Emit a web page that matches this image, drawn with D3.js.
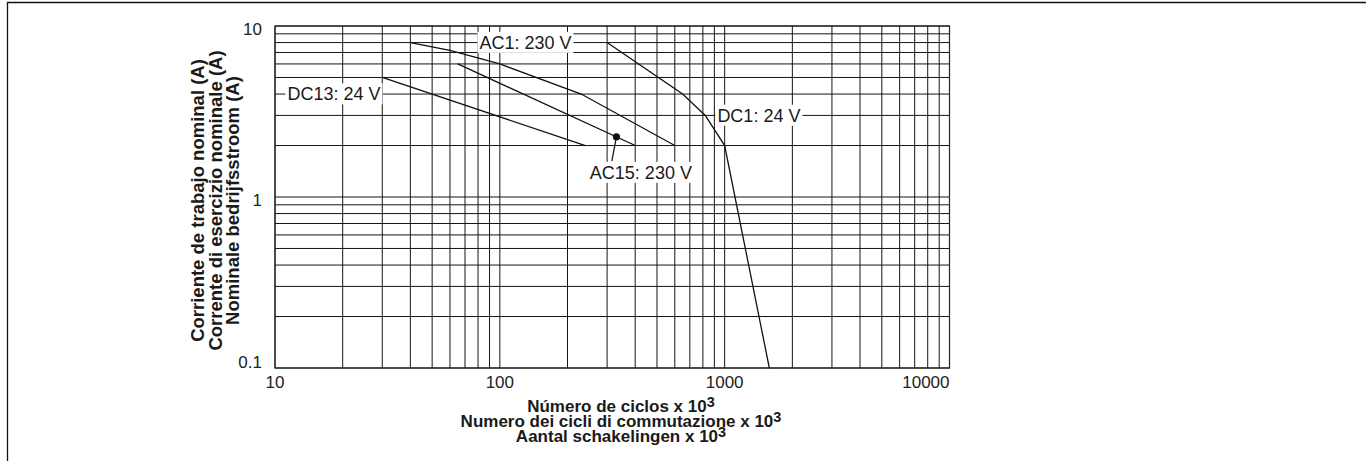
<!DOCTYPE html>
<html><head><meta charset="utf-8">
<script src="https://cdn.jsdelivr.net/npm/d3@7"></script>
<style>
body{margin:0;background:#fff;}
svg{display:block;font-family:"Liberation Sans",Arial,Helvetica,sans-serif;}
</style></head><body>
<svg id="c" width="1366" height="461"></svg>
<script>
// ---- data ----
const xDomain = [10, 10000];
const yDomain = [0.1, 10];
const xTickValues = [10, 100, 1000, 10000];
const xTickLabels = ["10", "100", "1000", "10000"];
const yTickValues = [0.1, 1, 10];
const yTickLabels = ["0.1", "1", "10"];

const dc13X = [30, 240];
const dc13Y = [5, 2];
const ac1X = [40, 60, 100, 230, 600];
const ac1Y = [8, 7.2, 6, 4, 2];
const ac15X = [65, 400];
const ac15Y = [6, 2];
const dc1X = [300, 650, 820, 1000, 1580];
const dc1Y = [8, 4, 3, 2, 0.1];

const labelTexts = ["DC13: 24 V", "AC1: 230 V", "DC1: 24 V", "AC15: 230 V"];
const labelX = [18.3, 130, 1420, 424];
const labelY = [4, 8, 3, 1.39];

const markerX = [330];
const markerY = [2.25];
const leaderEndX = [315];
const leaderEndY = [1.62];

const xTitleLines = ["Número de ciclos x 10", "Numero dei cicli di commutazione x 10", "Aantal schakelingen x 10"];
const xTitleSup = "3";
const yTitleLines = ["Corriente de trabajo nominal (A)", "Corrente di esercizio nominale (A)", "Nominale bedrijfsstroom (A)"];

// ---- layout ----
const W = 1366, H = 461;
const L = 275, R = 949.5, T = 26, B = 368;

const svg = d3.select("#c");
const x = d3.scaleLog().domain(xDomain).range([L, R]);
const y = d3.scaleLog().domain(yDomain).range([B, T]);

// outer frame (top and left)
svg.append("path").attr("d", `M7.5,${H} V2.5 H${W}`)
  .attr("fill", "none").attr("stroke", "#111").attr("stroke-width", 1.3);

// grid
const g = svg.append("g");
g.selectAll("line.vx").data(x.ticks()).join("line")
  .attr("x1", d => x(d)).attr("x2", d => x(d)).attr("y1", T).attr("y2", B)
  .attr("stroke", "#151515").attr("stroke-width", 1);
g.selectAll("line.hy").data(y.ticks()).join("line")
  .attr("y1", d => y(d)).attr("y2", d => y(d)).attr("x1", L).attr("x2", R)
  .attr("stroke", "#151515").attr("stroke-width", 1);
g.append("rect").attr("x", L).attr("y", T).attr("width", R - L).attr("height", B - T)
  .attr("fill", "none").attr("stroke", "#222").attr("stroke-width", 1.2);

// tick labels
svg.append("g").selectAll("text").data(xTickValues).join("text")
  .attr("x", d => x(d)).attr("y", B + 20)
  .attr("text-anchor", (d, i) => i === xTickValues.length - 1 ? "end" : "middle")
  .attr("font-size", 17).attr("fill", "#222")
  .text((d, i) => xTickLabels[i]);
svg.append("g").selectAll("text").data(yTickValues).join("text")
  .attr("x", L - 13).attr("y", (d, i) => y(d) + (i === 0 ? 0 : 8.5))
  .attr("text-anchor", "end")
  .attr("font-size", 17).attr("fill", "#222")
  .text((d, i) => yTickLabels[i]);

// curves
const line = d3.line().x(d => x(d[0])).y(d => y(d[1]));
const series = [
  [dc13X, dc13Y], [ac1X, ac1Y], [ac15X, ac15Y], [dc1X, dc1Y]
];
svg.append("g").selectAll("path").data(series).join("path")
  .attr("d", s => line(s[0].map((v, i) => [v, s[1][i]])))
  .attr("fill", "none").attr("stroke", "#111").attr("stroke-width", 1.3);

// labels with white background
const lg = svg.append("g");
labelTexts.forEach((t, i) => {
  const grp = lg.append("g");
  const txt = grp.append("text")
    .attr("x", x(labelX[i])).attr("y", y(labelY[i])).attr("dy", "0.35em")
    .attr("text-anchor", "middle").attr("font-size", 18).attr("fill", "#1a1a1a")
    .text(t);
  const bb = txt.node().getBBox();
  grp.insert("rect", "text")
    .attr("x", bb.x - 2).attr("y", bb.y - 1).attr("width", bb.width + 4).attr("height", bb.height + 1)
    .attr("fill", "#fff");
});

// marker and leader
svg.append("line")
  .attr("x1", x(markerX[0])).attr("y1", y(markerY[0]))
  .attr("x2", x(leaderEndX[0])).attr("y2", y(leaderEndY[0]))
  .attr("stroke", "#111").attr("stroke-width", 1.2);
svg.append("circle").attr("cx", x(markerX[0])).attr("cy", y(markerY[0])).attr("r", 3.6)
  .attr("fill", "#111");

// x title
const cx = 621;
const xt = svg.append("g").attr("font-weight", "bold").attr("font-size", 17).attr("fill", "#1a1a1a");
[412, 427, 442].forEach((by, i) => {
  const t = xt.append("text").attr("x", cx).attr("y", by).attr("text-anchor", "middle");
  t.append("tspan").text(xTitleLines[i]);
  t.append("tspan").attr("dy", -5).attr("font-size", 14.5).text(xTitleSup);
});

// y title
const yt = svg.append("g").attr("font-weight", "bold").attr("font-size", 18.5).attr("fill", "#1a1a1a");
[204, 221.5, 239].forEach((bx, i) => {
  yt.append("text").attr("transform", `translate(${bx},200.5) rotate(-90)`)
    .attr("text-anchor", "middle").text(yTitleLines[i]);
});
</script>
</body></html>
